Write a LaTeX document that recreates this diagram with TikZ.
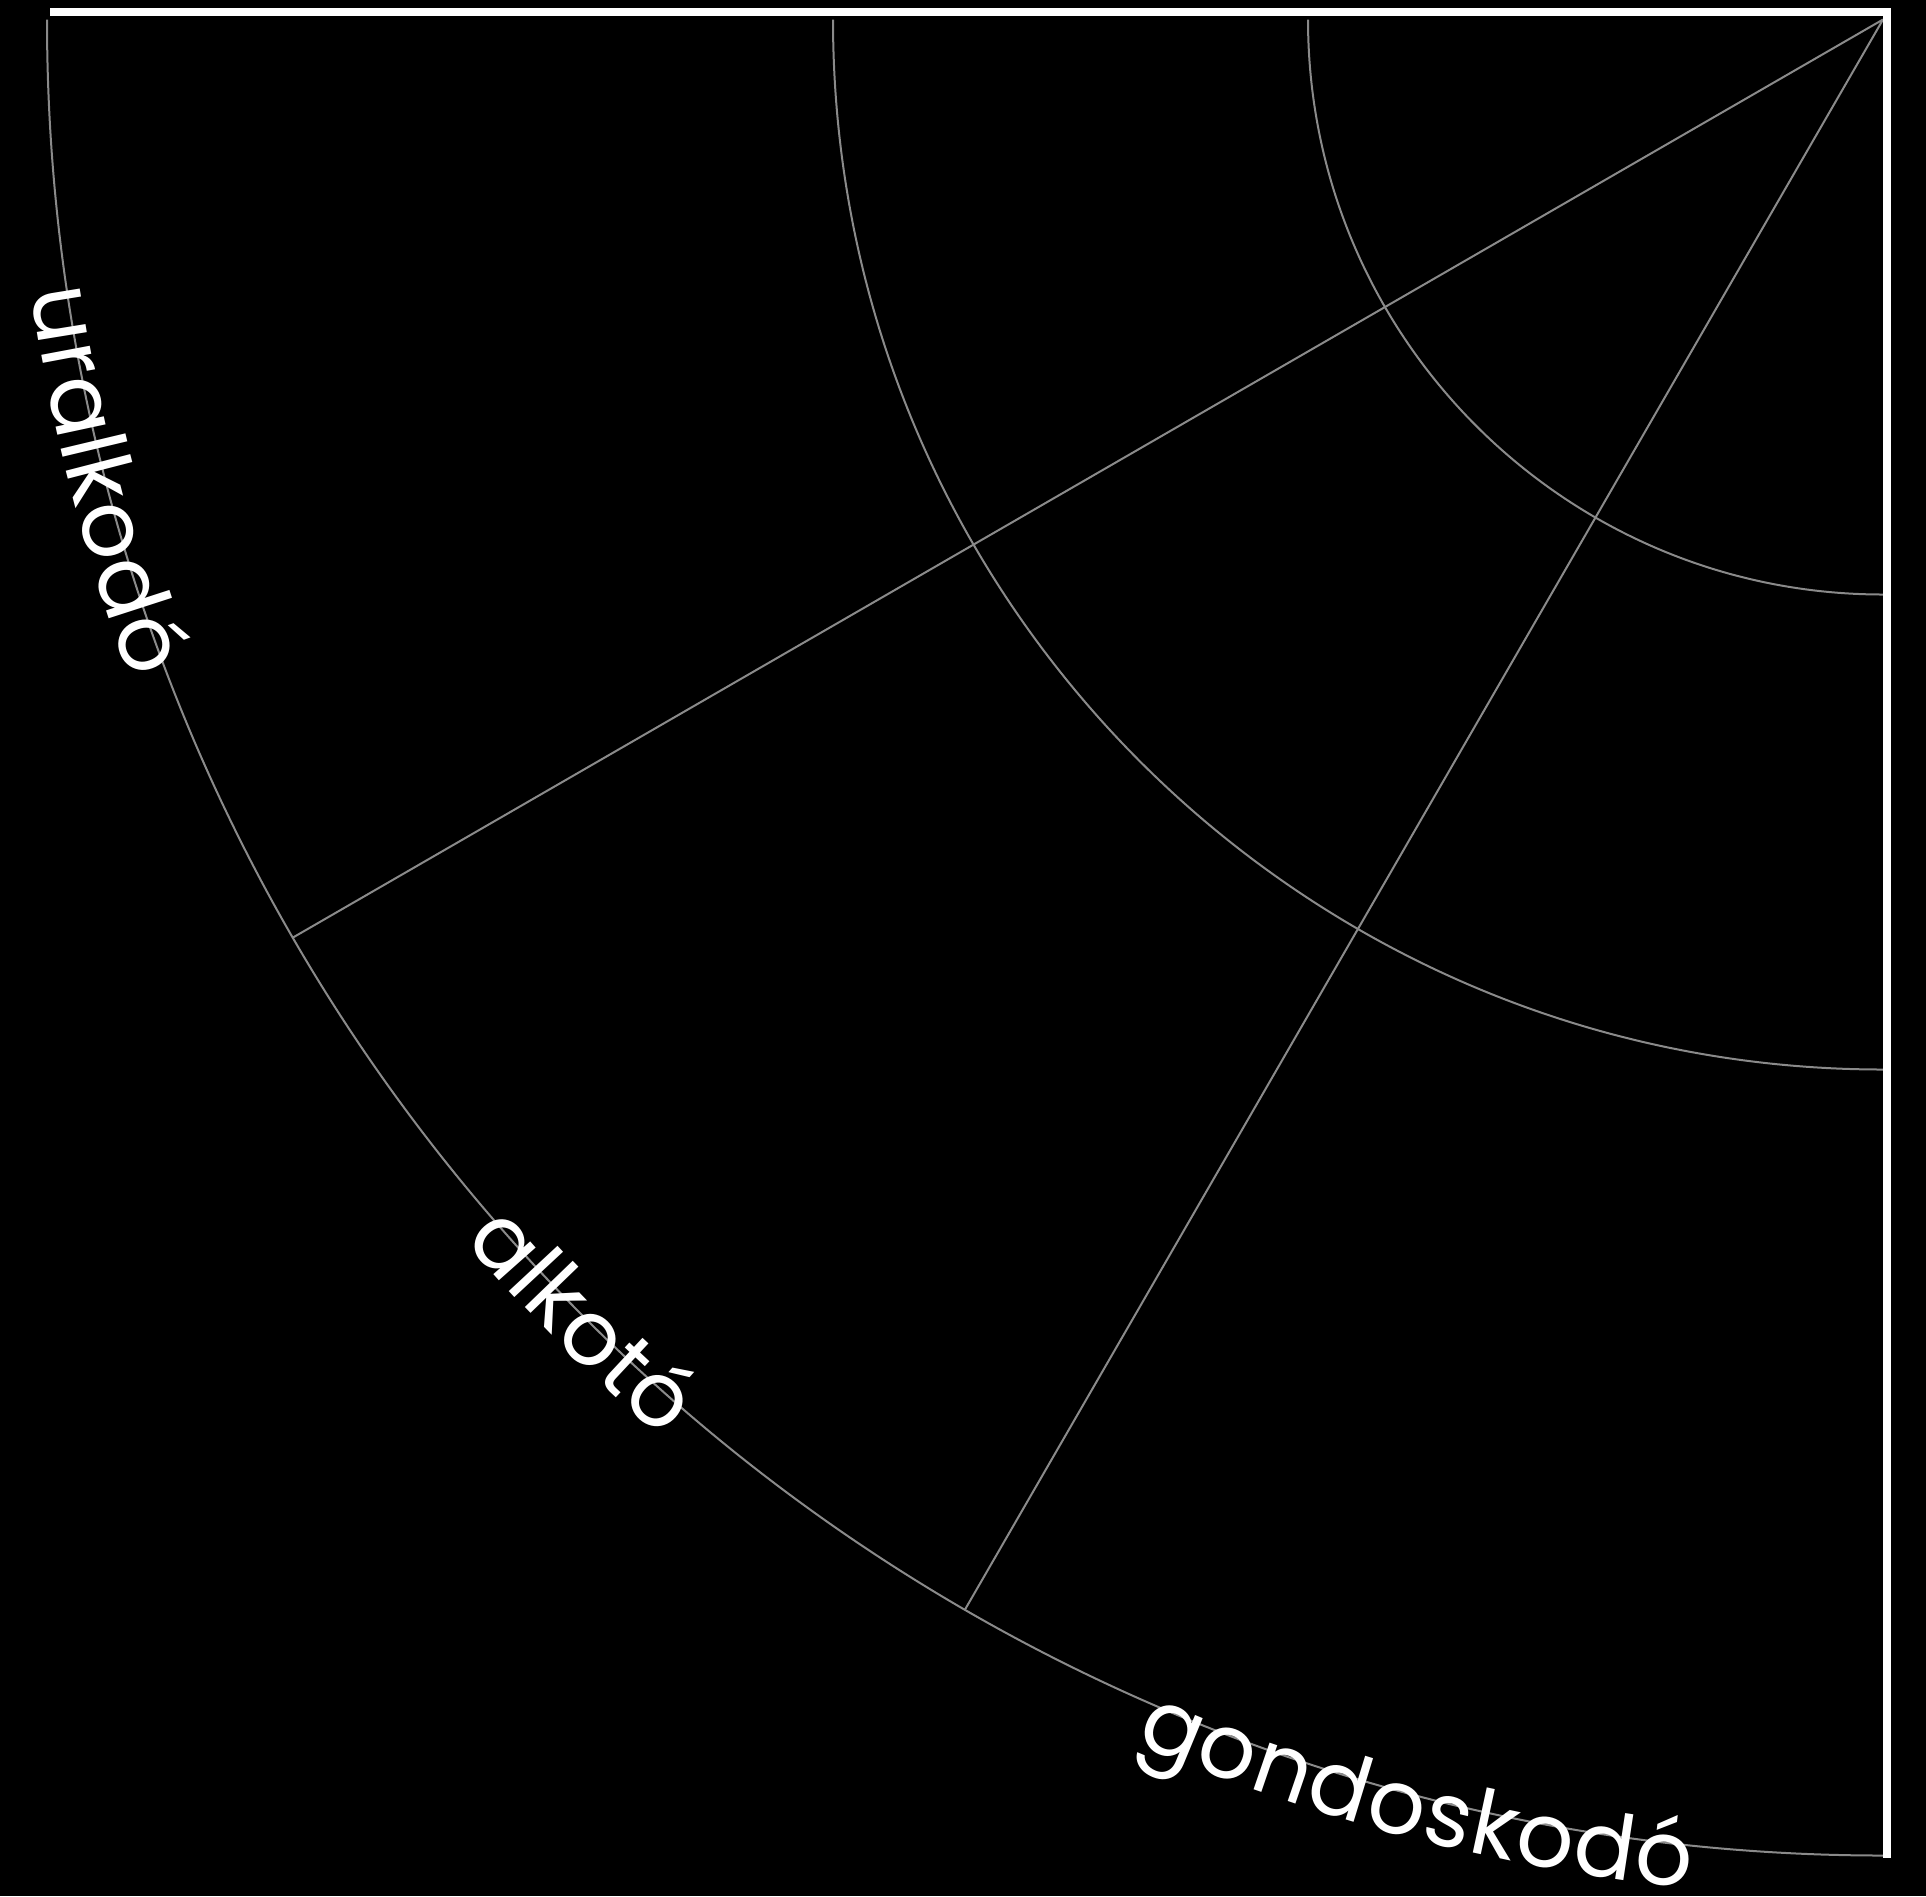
\documentclass[tikz,border=0pt]{standalone}
\usepackage{fontspec}
\newfontfamily\labelfont{Poppins}
\usetikzlibrary{decorations.text}
\definecolor{gridgray}{HTML}{8A8A8A}
\newcommand\lblfmt{\labelfont\fontsize{90}{90}\selectfont\color{white}}
\begin{document}
\begin{tikzpicture}[x=1pt,y=1pt,
  gridline/.style={draw=gridgray, line width=2pt},
  frameline/.style={draw=white, line width=8pt, line join=miter},
  arclabel/.style 2 args={decorate, decoration={text along path, text={|\lblfmt|#1}, text align=center, raise=#2}}
]
\fill[black] (0,0) rectangle (1926,-1896);
\useasboundingbox (0,0) rectangle (1926,-1896);
\coordinate (C) at (1883,-19.5);
% arcs
\draw[gridline] (C) ++(180:575) arc[start angle=180,end angle=270,radius=575];
\draw[gridline] (C) ++(180:1050) arc[start angle=180,end angle=270,radius=1050];
\draw[gridline] (C) ++(180:1836) arc[start angle=180,end angle=270,radius=1836];
% radial lines
\draw[gridline] (C) -- ++(210:1836) coordinate (e1);
\draw[gridline] (C) -- ++(240:1836) coordinate (e2);
% frame
\draw[frameline] (50,-12) -- (1887,-12) -- (1887,-1858);
% labels
\path[arclabel={uralkodó}{-36pt}] (C) ++(179.5:1836) arc[start angle=179.5,end angle=209.5,radius=1836];
\path[arclabel={alkotó}{-36pt}] (C) ++(210:1836) arc[start angle=210,end angle=240,radius=1836];
\path[arclabel={gondoskodó}{-43pt}] (C) ++(240.3:1836) arc[start angle=240.3,end angle=270.3,radius=1836];
\end{tikzpicture}
\end{document}
